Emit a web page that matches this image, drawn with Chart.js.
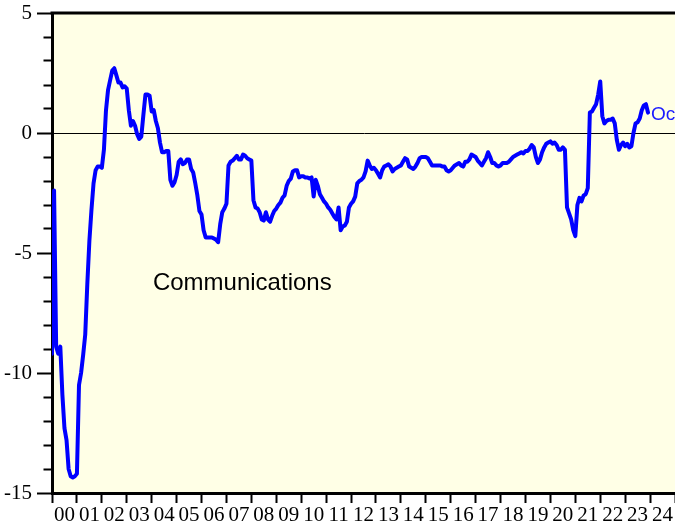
<!DOCTYPE html>
<html>
<head>
<meta charset="utf-8">
<script src="https://cdn.jsdelivr.net/npm/chart.js@4/dist/chart.umd.min.js"></script>
<style>
  html, body { margin: 0; padding: 0; background: #ffffff; }
  #wrap { width: 675px; height: 523px; }
</style>
</head>
<body>
<div id="wrap"><canvas id="c" width="675" height="523"></canvas></div>
<script>
// ---- data (monthly, starting January 2000) ----
const seriesName = "Communications";
const lastLabel = "Oct";
const startYear = 2000;
const values = [
  -9.2, -2.4, -8.9, -9.2, -8.9, -10.9, -12.3, -12.8, -14.0, -14.3, -14.35, -14.3,
  -14.2, -10.5, -10.0, -9.25, -8.4, -6.3, -4.5, -3.2, -2.1, -1.55, -1.4, -1.4,
  -1.45, -0.7, 0.95, 1.8, 2.2, 2.6, 2.7, 2.4, 2.1, 2.1, 1.9, 1.95,
  1.85, 0.95, 0.3, 0.5, 0.3, -0.05, -0.25, -0.15, 0.75, 1.6, 1.6, 1.55,
  0.9, 0.95, 0.5, 0.2, -0.4, -0.8, -0.8, -0.75, -0.75, -1.95, -2.2, -2.05,
  -1.75, -1.2, -1.1, -1.3, -1.25, -1.1, -1.1, -1.5, -1.65, -2.1, -2.6, -3.25,
  -3.4, -4.05, -4.35, -4.35, -4.35, -4.35, -4.4, -4.45, -4.55, -3.8, -3.3, -3.15,
  -2.95, -1.35, -1.2, -1.15, -1.05, -0.95, -1.1, -1.1, -0.9, -0.95, -1.05, -1.1,
  -1.15, -2.8, -3.1, -3.15, -3.3, -3.6, -3.65, -3.3, -3.6, -3.7, -3.45, -3.25,
  -3.15, -3.0, -2.9, -2.7, -2.6, -2.2, -2.0, -1.9, -1.6, -1.55, -1.55, -1.85,
  -1.8, -1.8, -1.85, -1.85, -1.9, -1.85, -2.65, -1.95, -2.2, -2.55, -2.7, -2.85,
  -2.95, -3.1, -3.2, -3.35, -3.5, -3.6, -3.1, -4.05, -3.9, -3.85, -3.7, -3.1,
  -2.95, -2.85, -2.65, -2.1, -2.0, -1.95, -1.85, -1.6, -1.15, -1.35, -1.5, -1.45,
  -1.55, -1.7, -1.85, -1.55, -1.4, -1.35, -1.3, -1.4, -1.6, -1.5, -1.45, -1.4,
  -1.35, -1.2, -1.05, -1.1, -1.4, -1.45, -1.5, -1.4, -1.25, -1.05, -1.0, -1.0,
  -1.0, -1.05, -1.2, -1.35, -1.35, -1.35, -1.35, -1.35, -1.4, -1.4, -1.55, -1.6,
  -1.55, -1.45, -1.35, -1.3, -1.25, -1.35, -1.4, -1.2, -1.2, -1.1, -0.9, -0.95,
  -1.0, -1.15, -1.25, -1.35, -1.2, -1.05, -0.8, -1.0, -1.25, -1.25, -1.35, -1.4,
  -1.35, -1.25, -1.25, -1.25, -1.2, -1.1, -1.0, -0.95, -0.9, -0.85, -0.8, -0.85,
  -0.75, -0.75, -0.65, -0.5, -0.6, -1.0, -1.25, -1.1, -0.8, -0.6, -0.45, -0.4,
  -0.35, -0.45, -0.4, -0.5, -0.7, -0.7, -0.6, -0.7, -3.1, -3.35, -3.6, -4.05,
  -4.3, -3.0, -2.7, -2.85, -2.6, -2.55, -2.3, 0.85, 0.9, 1.05, 1.2, 1.6,
  2.15, 0.7, 0.4, 0.5, 0.55, 0.55, 0.6, 0.4, -0.3, -0.7, -0.5, -0.4,
  -0.55, -0.45, -0.6, -0.55, 0.0, 0.4, 0.45, 0.6, 0.95, 1.15, 1.2, 0.85
];
const yearLabels = ["00","01","02","03","04","05","06","07","08","09","10","11","12",
  "13","14","15","16","17","18","19","20","21","22","23","24"];
const yTickLabels = { "5": "5", "0": "0", "-5": "-5", "-10": "-10", "-15": "-15" };

// ---- build points ----
const points = values.map((v, i) => ({ x: startYear + i / 12, y: v }));

const BG = "#FFFFE6";
const serif = "'Liberation Serif', 'Times New Roman', serif";
const sans = "'Liberation Sans', Arial, sans-serif";

const deco = {
  id: "deco",
  beforeDraw(chart) {
    const { ctx, chartArea: a } = chart;
    ctx.save();
    ctx.fillStyle = "#ffffff";
    ctx.fillRect(0, 0, chart.width, chart.height);
    ctx.fillStyle = BG;
    ctx.fillRect(a.left, a.top, a.right - a.left, a.bottom - a.top);
    ctx.restore();
  },
  afterDraw(chart) {
    const { ctx, chartArea: a } = chart;
    const xs = chart.scales.x, ys = chart.scales.y;
    ctx.save();
    // top frame line
    ctx.strokeStyle = "#000";
    ctx.lineWidth = 3;
    ctx.beginPath();
    ctx.moveTo(a.left - 1.5, a.top);
    ctx.lineTo(chart.width, a.top);
    ctx.stroke();
    // series name
    ctx.fillStyle = "#000";
    ctx.font = "24px " + sans;
    ctx.textAlign = "left";
    ctx.textBaseline = "middle";
    ctx.fillText(seriesName, xs.getPixelForValue(2004.05), ys.getPixelForValue(-6.25));
    // end label
    const last = points[points.length - 1];
    ctx.fillStyle = "#1a1aff";
    ctx.font = "19px " + sans;
    ctx.fillText(lastLabel, xs.getPixelForValue(last.x) + 3, ys.getPixelForValue(last.y) + 2);
    ctx.restore();
  }
};

new Chart(document.getElementById("c"), {
  type: "line",
  data: {
    datasets: [{
      data: points,
      borderColor: "#0000ff",
      borderWidth: 4,
      pointRadius: 0,
      tension: 0,
      borderJoinStyle: "round",
      borderCapStyle: "round",
      fill: false
    }]
  },
  plugins: [deco],
  options: {
    responsive: false,
    devicePixelRatio: 1,
    animation: false,
    events: [],
    layout: { padding: { top: 13, right: 0, left: 0, bottom: 0 } },
    plugins: { legend: { display: false }, tooltip: { enabled: false } },
    scales: {
      x: {
        type: "linear",
        min: 2000,
        max: 2025,
        border: { display: true, color: "#000", width: 3 },
        grid: {
          drawOnChartArea: false,
          drawTicks: true,
          tickLength: 10,
          tickWidth: 2,
          tickColor: "#000"
        },
        ticks: {
          stepSize: 1,
          autoSkip: false,
          maxRotation: 0,
          minRotation: 0,
          labelOffset: 12.46,
          padding: 0,
          color: "#000",
          font: { family: serif, size: 21 },
          callback: (v) => {
            const idx = Math.round(v) - startYear;
            return (idx >= 0 && idx < yearLabels.length) ? yearLabels[idx] : "";
          }
        },
        afterFit: (s) => { s.height = 30; s.paddingLeft = 0; s.paddingRight = 0; }
      },
      y: {
        min: -15,
        max: 5,
        border: { display: true, color: "#000", width: 3 },
        grid: {
          drawOnChartArea: true,
          drawTicks: true,
          tickLength: 15,
          tickWidth: 2,
          tickColor: "#000",
          color: (ctx) => (ctx.tick && ctx.tick.value === 0) ? "#000" : "rgba(0,0,0,0)",
          lineWidth: 1,
          tickBorderDash: (ctx) => (ctx.tick && ctx.tick.value % 5 === 0) ? [] : [0, 6.5, 40, 1]
        },
        ticks: {
          stepSize: 1,
          autoSkip: false,
          padding: 5,
          color: "#000",
          font: { family: serif, size: 21 },
          callback: (v) => yTickLabels[String(v)] || ""
        },
        afterFit: (s) => { s.width = 52; s.paddingTop = 0; s.paddingBottom = 0; }
      }
    }
  }
});
</script>
</body>
</html>
